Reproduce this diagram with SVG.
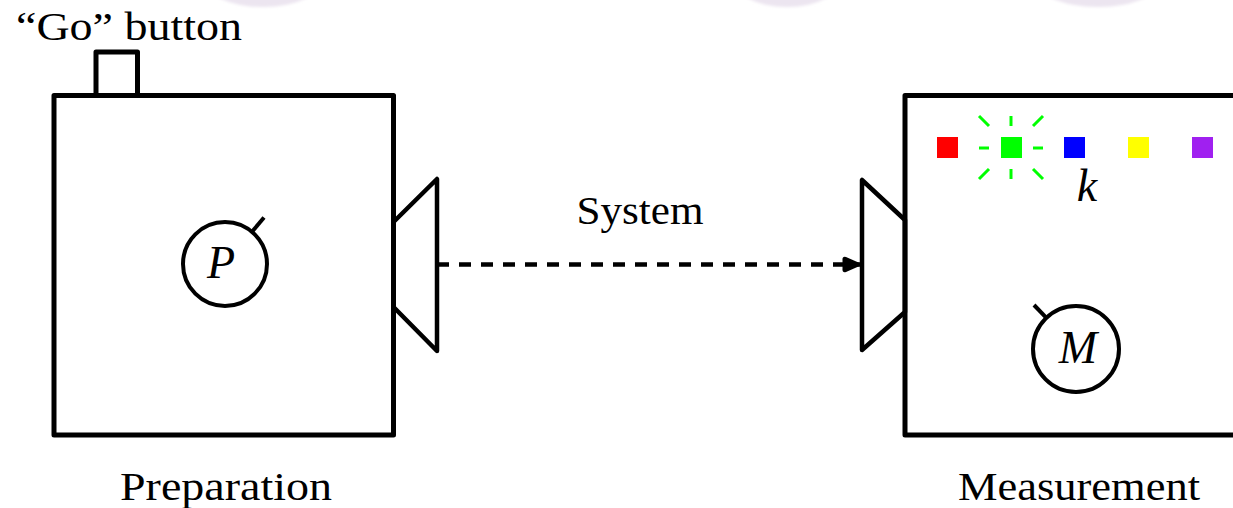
<svg xmlns="http://www.w3.org/2000/svg" width="1233" height="508" viewBox="0 0 1233 508">
  <style>
    .frame { fill: none; stroke: #000; stroke-width: 5; stroke-linejoin: round; stroke-linecap: round; }
    .horn { fill: none; stroke: #000; stroke-width: 4.5; stroke-linejoin: round; stroke-linecap: round; }
    .dial { fill: none; stroke: #000; stroke-width: 4; }
    .lbl { font-family: 'Liberation Serif', 'DejaVu Serif', serif; font-size: 40px; fill: #000; }
    .sym { font-family: 'Liberation Serif', 'DejaVu Serif', serif; font-style: italic; font-size: 46px; fill: #000; }
    .ray { stroke: #00ff00; stroke-width: 3; stroke-linecap: butt; }
    .halo { fill: #ece5f0; filter: url(#soft); }
  </style>
  <defs>
    <filter id="soft" x="-20%" y="-50%" width="140%" height="200%">
      <feGaussianBlur stdDeviation="1.5"/>
    </filter>
    <marker id="head" viewBox="0 0 22 18" refX="20" refY="9" markerWidth="22" markerHeight="18" markerUnits="userSpaceOnUse" orient="auto">
      <path d="M21,9 L4,1.5 Q0,0.5 0.5,5 L0.5,13 Q0,17.5 4,16.5 Z" fill="#000"/>
    </marker>
  </defs>

  <rect width="1233" height="508" fill="#fff"/>

  <!-- faint background discs along the top edge -->
  <g id="backdrop">
    <ellipse class="halo" cx="263" cy="-24" rx="62" ry="31"/>
    <ellipse class="halo" cx="787" cy="-24" rx="56" ry="31"/>
    <ellipse class="halo" cx="1098" cy="-24" rx="66" ry="31"/>
  </g>

  <!-- preparation device -->
  <g id="preparation">
    <polyline class="frame" points="96,95.5 96,52 137.5,52 137.5,95.5"/>
    <rect class="frame" x="54" y="95.5" width="339.5" height="339.5"/>
    <polygon class="horn" points="393.5,222 437,179 437,351 393.5,307"/>
    <circle class="dial" cx="225" cy="264" r="42"/>
    <line class="dial" x1="252" y1="231.8" x2="264" y2="217.5"/>
    <text class="sym" x="221" y="278" text-anchor="middle">P</text>
    <text class="lbl" x="226" y="500" text-anchor="middle" textLength="212" lengthAdjust="spacingAndGlyphs">Preparation</text>
  </g>

  <!-- "Go" button caption -->
  <g id="go-button">
    <text class="lbl" x="16" y="40" textLength="226" lengthAdjust="spacingAndGlyphs">“Go” button</text>
  </g>

  <!-- measurement device -->
  <g id="measurement">
    <polyline class="frame" points="1240,95.5 905,95.5 905,435 1240,435"/>
    <polygon class="horn" points="905,220 862,180 862,350 905,312"/>
    <circle class="dial" cx="1076" cy="349" r="43"/>
    <line class="dial" x1="1046.4" y1="317.8" x2="1034" y2="305"/>
    <text class="sym" x="1078" y="363" text-anchor="middle">M</text>
    <text class="lbl" x="1079" y="500" text-anchor="middle" textLength="242" lengthAdjust="spacingAndGlyphs">Measurement</text>
  </g>

  <!-- outcome indicator lights -->
  <g id="lights">
    <rect x="937" y="137" width="21" height="21" fill="#ff0000"/>
    <rect x="1001" y="137" width="21" height="21" fill="#00ff00"/>
    <rect x="1064" y="137" width="21" height="21" fill="#0000ff"/>
    <rect x="1128" y="137" width="21" height="21" fill="#ffff00"/>
    <rect x="1192" y="137" width="21" height="21" fill="#a020f0"/>
    <g id="glow">
      <line class="ray" x1="979" y1="148" x2="989" y2="148"/>
      <line class="ray" x1="1033" y1="148" x2="1043" y2="148"/>
      <line class="ray" x1="1011" y1="116" x2="1011" y2="126"/>
      <line class="ray" x1="1011" y1="169" x2="1011" y2="179"/>
      <line class="ray" x1="979" y1="116" x2="989" y2="126"/>
      <line class="ray" x1="1043" y1="116" x2="1033" y2="126"/>
      <line class="ray" x1="979" y1="179" x2="989" y2="169"/>
      <line class="ray" x1="1043" y1="179" x2="1033" y2="169"/>
    </g>
    <text class="sym" x="1087" y="201" text-anchor="middle">k</text>
  </g>

  <!-- system passed from preparation to measurement -->
  <g id="connectors">
    <line x1="437" y1="264.5" x2="862" y2="264.5" stroke="#000" stroke-width="4.5" stroke-dasharray="12 10" marker-end="url(#head)"/>
    <text class="lbl" x="640" y="224" text-anchor="middle" textLength="127" lengthAdjust="spacingAndGlyphs">System</text>
  </g>
</svg>
